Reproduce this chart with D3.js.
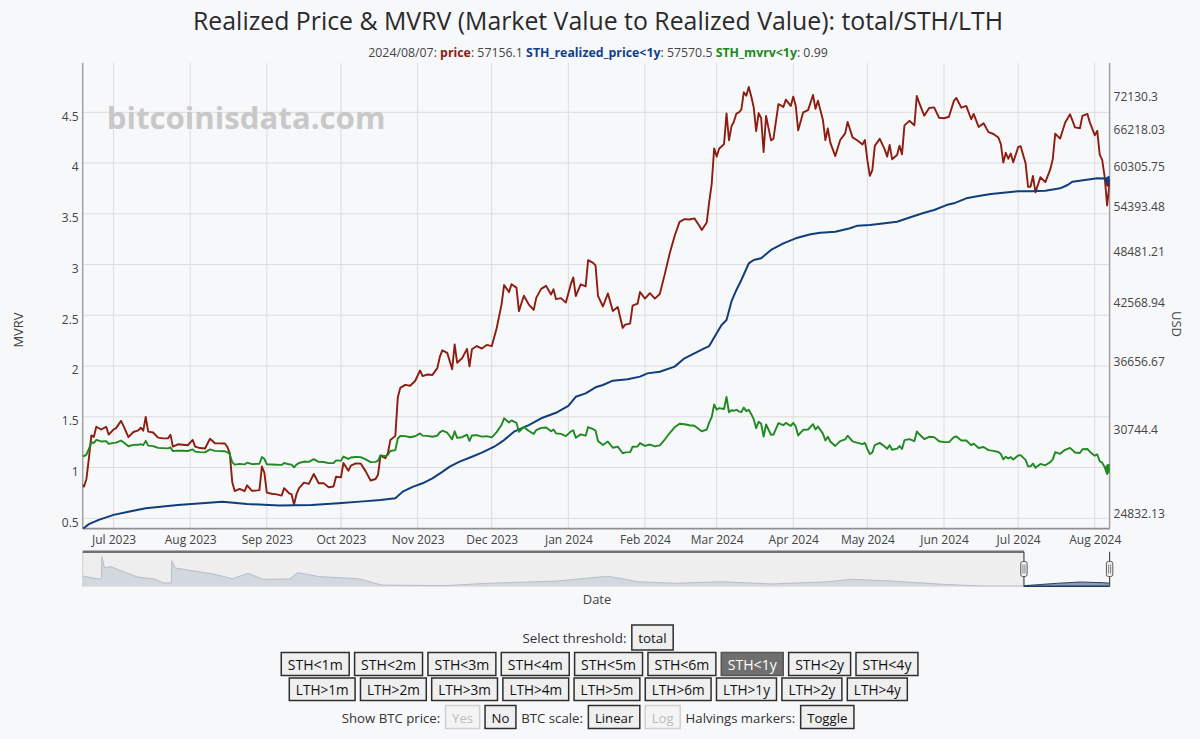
<!DOCTYPE html>
<html><head><meta charset="utf-8">
<script src="https://cdn.jsdelivr.net/npm/d3@7"></script>
<style>
html,body{margin:0;padding:0;background:#f7f8fa;}
svg{display:block;}
</style></head>
<body><svg id="chart" width="1200" height="739"></svg>
<script>
// ---------------- DATA ----------------
const priceData = [
["2023-06-18",26510],["2023-06-19",26340],["2023-06-20",26850],["2023-06-21",28310],["2023-06-22",30030],["2023-06-23",29910],["2023-06-24",30700],["2023-06-26",30480],["2023-06-28",30690],["2023-06-29",30090],
["2023-07-01",30480],["2023-07-02",30590],["2023-07-04",31160],["2023-07-05",30770],["2023-07-07",29900],["2023-07-09",30290],["2023-07-11",30410],["2023-07-12",30620],["2023-07-13",30390],["2023-07-14",31480],["2023-07-15",30320],["2023-07-17",30250],["2023-07-19",29860],["2023-07-21",29800],["2023-07-23",29800],["2023-07-24",30080],["2023-07-25",29180],["2023-07-27",29350],["2023-07-29",29320],["2023-07-31",29280],
["2023-08-02",29680],["2023-08-03",29180],["2023-08-05",29070],["2023-08-07",29040],["2023-08-09",29770],["2023-08-11",29430],["2023-08-13",29420],["2023-08-15",29410],["2023-08-16",29170],["2023-08-17",28700],["2023-08-18",26660],["2023-08-19",26050],["2023-08-21",26190],["2023-08-23",26040],["2023-08-24",26430],["2023-08-26",26060],["2023-08-28",26090],["2023-08-29",26110],["2023-08-30",27730],["2023-08-31",27300],
["2023-09-01",25940],["2023-09-03",25870],["2023-09-05",25830],["2023-09-07",25750],["2023-09-08",26240],["2023-09-10",25900],["2023-09-11",25840],["2023-09-12",25160],["2023-09-13",25840],["2023-09-14",26230],["2023-09-16",26610],["2023-09-18",26530],["2023-09-20",27210],["2023-09-22",26570],["2023-09-24",26580],["2023-09-26",26300],["2023-09-28",26350],["2023-09-29",27020],
["2023-10-01",26970],["2023-10-02",27980],["2023-10-04",27430],["2023-10-05",27800],["2023-10-07",27950],["2023-10-09",27940],["2023-10-11",27390],["2023-10-13",26760],["2023-10-15",26860],["2023-10-16",27160],["2023-10-17",28520],["2023-10-19",28330],["2023-10-20",28720],["2023-10-21",29680],["2023-10-23",29990],["2023-10-24",33090],["2023-10-25",33900],["2023-10-27",34160],["2023-10-29",34090],["2023-10-31",34500],
["2023-11-02",35440],["2023-11-03",34940],["2023-11-05",35080],["2023-11-07",35040],["2023-11-09",35650],["2023-11-10",36700],["2023-11-11",37310],["2023-11-13",37070],["2023-11-15",35550],["2023-11-16",37880],["2023-11-17",36150],["2023-11-19",36570],["2023-11-21",37450],["2023-11-22",35810],["2023-11-23",37420],["2023-11-25",37720],["2023-11-27",37480],["2023-11-29",37830],
["2023-12-01",37710],["2023-12-03",39480],["2023-12-05",41990],["2023-12-06",44080],["2023-12-08",43290],["2023-12-09",44170],["2023-12-11",43790],["2023-12-12",41240],["2023-12-14",42890],["2023-12-16",41940],["2023-12-18",41370],["2023-12-19",42660],["2023-12-21",43650],["2023-12-23",43990],["2023-12-25",43020],["2023-12-26",43610],["2023-12-27",42520],["2023-12-29",42630],["2023-12-31",42150],
["2024-01-02",44180],["2024-01-03",44950],["2024-01-04",42850],["2024-01-06",44160],["2024-01-08",43930],["2024-01-09",46970],["2024-01-11",46660],["2024-01-12",46340],["2024-01-13",42890],["2024-01-15",41730],["2024-01-17",43150],["2024-01-19",41260],["2024-01-21",41670],["2024-01-23",39510],["2024-01-24",39840],["2024-01-26",39950],["2024-01-27",41820],["2024-01-29",42030],["2024-01-30",43300],
["2024-02-01",42580],["2024-02-03",43180],["2024-02-05",42580],["2024-02-07",43080],["2024-02-09",45300],["2024-02-11",47770],["2024-02-13",49960],["2024-02-15",51800],["2024-02-17",52160],["2024-02-19",52120],["2024-02-21",52260],["2024-02-23",51300],["2024-02-24",50730],["2024-02-26",51730],["2024-02-27",54520],["2024-02-28",57050],["2024-02-29",62500],
["2024-03-01",61200],["2024-03-02",62440],["2024-03-04",63170],["2024-03-05",68330],["2024-03-06",63800],["2024-03-07",66100],["2024-03-08",66930],["2024-03-09",68300],["2024-03-10",68500],["2024-03-11",69020],["2024-03-12",72120],["2024-03-13",71480],["2024-03-14",73100],["2024-03-15",71400],["2024-03-16",69400],["2024-03-17",65320],["2024-03-18",68390],["2024-03-19",67550],["2024-03-20",61910],["2024-03-21",67910],["2024-03-23",63780],["2024-03-24",64060],["2024-03-26",69960],["2024-03-28",69470],["2024-03-29",70780],["2024-03-31",69650],
["2024-04-01",71330],["2024-04-02",69700],["2024-04-03",65450],["2024-04-05",68510],["2024-04-07",68900],["2024-04-09",71620],["2024-04-10",69140],["2024-04-11",70590],["2024-04-13",67200],["2024-04-14",63820],["2024-04-15",65740],["2024-04-16",63420],["2024-04-18",61280],["2024-04-20",63840],["2024-04-22",64930],["2024-04-23",66840],["2024-04-25",64280],["2024-04-27",63760],["2024-04-29",63110],["2024-04-30",63840],
["2024-05-01",60640],["2024-05-02",58250],["2024-05-03",59120],["2024-05-04",62890],["2024-05-06",64030],["2024-05-08",62330],["2024-05-09",61190],["2024-05-10",63050],["2024-05-11",60790],["2024-05-13",61450],["2024-05-14",62900],["2024-05-15",61550],["2024-05-16",66270],["2024-05-18",67050],["2024-05-20",66280],["2024-05-21",71450],["2024-05-22",70140],["2024-05-24",67930],["2024-05-26",69290],["2024-05-28",69390],["2024-05-30",67580],
["2024-06-01",67490],["2024-06-03",67750],["2024-06-05",70560],["2024-06-06",71080],["2024-06-08",69340],["2024-06-10",69650],["2024-06-12",67320],["2024-06-13",68240],["2024-06-15",66010],["2024-06-17",66640],["2024-06-19",65140],["2024-06-21",64830],["2024-06-23",64250],["2024-06-24",63180],["2024-06-25",60280],["2024-06-26",61800],["2024-06-27",60860],["2024-06-28",61670],["2024-06-29",60320],
["2024-07-01",62680],["2024-07-02",62850],["2024-07-04",60170],["2024-07-05",56660],["2024-07-06",56660],["2024-07-07",58230],["2024-07-08",55850],["2024-07-10",58050],["2024-07-12",57340],["2024-07-14",59230],["2024-07-15",60790],["2024-07-16",64870],["2024-07-18",64080],["2024-07-20",66710],["2024-07-22",68190],["2024-07-24",65930],["2024-07-26",65800],["2024-07-27",67910],["2024-07-29",68250],["2024-07-30",66780],
["2024-08-01",64620],["2024-08-02",65350],["2024-08-03",61500],["2024-08-04",60680],["2024-08-05",58120],["2024-08-06",54020],["2024-08-07",57156.1]
];

const realizedData = [
["2023-06-18",23590],["2023-06-21",23940],["2023-06-25",24200],["2023-07-01",24510],["2023-07-07",24710],["2023-07-14",24930],["2023-07-27",25130],["2023-08-14",25350],["2023-08-24",25200],["2023-09-06",25100],["2023-09-19",25130],["2023-09-30",25250],["2023-10-10",25370],["2023-10-17",25460],["2023-10-23",25570],["2023-10-26",26010],["2023-10-30",26330],["2023-11-03",26570],["2023-11-07",26910],["2023-11-11",27360],["2023-11-14",27720],["2023-11-18",28080],["2023-11-23",28430],["2023-11-27",28730],["2023-12-02",29170],["2023-12-06",29670],["2023-12-10",30310],["2023-12-16",30830],["2023-12-21",31370],["2023-12-27",31810],
["2024-01-01",32370],["2024-01-04",33140],["2024-01-08",33430],["2024-01-12",33950],["2024-01-15",34150],["2024-01-19",34530],["2024-01-25",34650],["2024-01-30",34890],["2024-02-02",35180],["2024-02-07",35330],["2024-02-13",35790],["2024-02-17",36560],["2024-02-21",37030],["2024-02-25",37500],["2024-02-27",37720],["2024-03-01",38970],["2024-03-03",39800],["2024-03-05",40320],["2024-03-07",42270],["2024-03-09",43530],["2024-03-11",44650],["2024-03-14",46590],["2024-03-16",46990],["2024-03-19",47200],["2024-03-23",48210],["2024-03-28",49040],
["2024-04-02",49670],["2024-04-08",50180],["2024-04-12",50390],["2024-04-18",50520],["2024-04-24",50960],["2024-04-27",51300],["2024-05-02",51390],["2024-05-08",51610],["2024-05-13",51810],["2024-05-19",52490],["2024-05-24",53020],["2024-05-28",53390],["2024-06-02",54070],["2024-06-05",54310],["2024-06-10",55010],["2024-06-15",55330],["2024-06-20",55620],["2024-06-25",55800],["2024-07-01",56000],["2024-07-06",56000],["2024-07-12",56090],["2024-07-18",56430],["2024-07-21",56910],["2024-07-23",57400],["2024-07-28",57640],["2024-08-02",57890],["2024-08-05",57880],["2024-08-06",57700],["2024-08-07",57570.5]
];

const mvrvData = [
["2023-06-18",1.124],["2023-06-19",1.111],["2023-06-20",1.127],["2023-06-21",1.183],["2023-06-22",1.251],["2023-06-23",1.242],["2023-06-24",1.272],["2023-06-26",1.257],["2023-06-28",1.260],["2023-06-29",1.233],
["2023-07-01",1.243],["2023-07-02",1.246],["2023-07-04",1.266],["2023-07-05",1.249],["2023-07-07",1.210],["2023-07-09",1.223],["2023-07-11",1.224],["2023-07-12",1.231],["2023-07-13",1.221],["2023-07-14",1.263],["2023-07-15",1.216],["2023-07-17",1.211],["2023-07-19",1.194],["2023-07-21",1.191],["2023-07-23",1.189],["2023-07-24",1.199],["2023-07-25",1.162],["2023-07-27",1.167],["2023-07-29",1.165],["2023-07-31",1.163],
["2023-08-02",1.179],["2023-08-03",1.157],["2023-08-05",1.152],["2023-08-07",1.150],["2023-08-09",1.179],["2023-08-11",1.164],["2023-08-13",1.162],["2023-08-15",1.160],["2023-08-16",1.151],["2023-08-17",1.133],["2023-08-18",1.053],["2023-08-19",1.029],["2023-08-21",1.036],["2023-08-23",1.031],["2023-08-24",1.048],["2023-08-26",1.034],["2023-08-28",1.036],["2023-08-29",1.037],["2023-08-30",1.103],["2023-08-31",1.086],
["2023-09-01",1.032],["2023-09-03",1.030],["2023-09-05",1.028],["2023-09-07",1.026],["2023-09-08",1.045],["2023-09-10",1.032],["2023-09-11",1.029],["2023-09-12",1.002],["2023-09-13",1.029],["2023-09-14",1.045],["2023-09-16",1.059],["2023-09-18",1.056],["2023-09-20",1.083],["2023-09-22",1.056],["2023-09-24",1.055],["2023-09-26",1.044],["2023-09-28",1.044],["2023-09-29",1.071],
["2023-10-01",1.068],["2023-10-02",1.108],["2023-10-04",1.085],["2023-10-05",1.099],["2023-10-07",1.104],["2023-10-09",1.103],["2023-10-11",1.080],["2023-10-13",1.053],["2023-10-15",1.056],["2023-10-16",1.068],["2023-10-17",1.120],["2023-10-19",1.111],["2023-10-20",1.126],["2023-10-21",1.163],["2023-10-23",1.172],["2023-10-24",1.286],["2023-10-25",1.311],["2023-10-27",1.310],["2023-10-29",1.299],["2023-10-31",1.308],
["2023-11-02",1.337],["2023-11-03",1.315],["2023-11-05",1.312],["2023-11-07",1.303],["2023-11-09",1.314],["2023-11-10",1.347],["2023-11-11",1.363],["2023-11-13",1.343],["2023-11-15",1.278],["2023-11-16",1.358],["2023-11-17",1.292],["2023-11-19",1.299],["2023-11-21",1.324],["2023-11-22",1.262],["2023-11-23",1.316],["2023-11-25",1.320],["2023-11-27",1.305],["2023-11-29",1.309],
["2023-12-01",1.297],["2023-12-03",1.349],["2023-12-05",1.422],["2023-12-06",1.485],["2023-12-08",1.444],["2023-12-09",1.465],["2023-12-11",1.441],["2023-12-12",1.353],["2023-12-14",1.399],["2023-12-16",1.360],["2023-12-18",1.332],["2023-12-19",1.369],["2023-12-21",1.391],["2023-12-23",1.395],["2023-12-25",1.358],["2023-12-26",1.374],["2023-12-27",1.337],["2023-12-29",1.332],["2023-12-31",1.310],
["2024-01-02",1.355],["2024-01-03",1.367],["2024-01-04",1.293],["2024-01-06",1.327],["2024-01-08",1.314],["2024-01-09",1.399],["2024-01-11",1.379],["2024-01-12",1.365],["2024-01-13",1.261],["2024-01-15",1.222],["2024-01-17",1.256],["2024-01-19",1.195],["2024-01-21",1.206],["2024-01-23",1.141],["2024-01-24",1.150],["2024-01-26",1.152],["2024-01-27",1.205],["2024-01-29",1.208],["2024-01-30",1.241],
["2024-02-01",1.214],["2024-02-03",1.227],["2024-02-05",1.208],["2024-02-07",1.219],["2024-02-09",1.276],["2024-02-11",1.340],["2024-02-13",1.396],["2024-02-15",1.432],["2024-02-17",1.427],["2024-02-19",1.417],["2024-02-21",1.412],["2024-02-23",1.376],["2024-02-24",1.357],["2024-02-26",1.375],["2024-02-27",1.445],["2024-02-28",1.496],["2024-02-29",1.621],
["2024-03-01",1.570],["2024-03-02",1.585],["2024-03-04",1.577],["2024-03-05",1.695],["2024-03-06",1.545],["2024-03-07",1.564],["2024-03-08",1.560],["2024-03-09",1.569],["2024-03-10",1.554],["2024-03-11",1.546],["2024-03-12",1.592],["2024-03-13",1.556],["2024-03-14",1.569],["2024-03-15",1.526],["2024-03-16",1.477],["2024-03-17",1.388],["2024-03-18",1.451],["2024-03-19",1.432],["2024-03-20",1.305],["2024-03-21",1.424],["2024-03-23",1.323],["2024-03-24",1.324],["2024-03-26",1.437],["2024-03-28",1.417],["2024-03-29",1.440],["2024-03-31",1.410],
["2024-04-01",1.440],["2024-04-02",1.404],["2024-04-03",1.316],["2024-04-05",1.372],["2024-04-07",1.375],["2024-04-09",1.427],["2024-04-10",1.376],["2024-04-11",1.404],["2024-04-13",1.334],["2024-04-14",1.266],["2024-04-15",1.304],["2024-04-16",1.257],["2024-04-18",1.213],["2024-04-20",1.260],["2024-04-22",1.277],["2024-04-23",1.314],["2024-04-25",1.258],["2024-04-27",1.243],["2024-04-29",1.230],["2024-04-30",1.243],
["2024-05-01",1.181],["2024-05-02",1.133],["2024-05-03",1.149],["2024-05-04",1.222],["2024-05-06",1.243],["2024-05-08",1.208],["2024-05-09",1.185],["2024-05-10",1.220],["2024-05-11",1.175],["2024-05-13",1.186],["2024-05-14",1.212],["2024-05-15",1.183],["2024-05-16",1.270],["2024-05-18",1.280],["2024-05-20",1.260],["2024-05-21",1.356],["2024-05-22",1.328],["2024-05-24",1.281],["2024-05-26",1.303],["2024-05-28",1.300],["2024-05-30",1.259],
["2024-06-01",1.251],["2024-06-03",1.251],["2024-06-05",1.300],["2024-06-06",1.306],["2024-06-08",1.267],["2024-06-10",1.266],["2024-06-12",1.221],["2024-06-13",1.236],["2024-06-15",1.193],["2024-06-17",1.202],["2024-06-19",1.172],["2024-06-21",1.164],["2024-06-23",1.153],["2024-06-24",1.133],["2024-06-25",1.081],["2024-06-26",1.107],["2024-06-27",1.090],["2024-06-28",1.103],["2024-06-29",1.079],
["2024-07-01",1.119],["2024-07-02",1.122],["2024-07-04",1.075],["2024-07-05",1.012],["2024-07-06",1.012],["2024-07-07",1.039],["2024-07-08",0.997],["2024-07-10",1.036],["2024-07-12",1.022],["2024-07-14",1.053],["2024-07-15",1.081],["2024-07-16",1.152],["2024-07-18",1.135],["2024-07-20",1.175],["2024-07-22",1.194],["2024-07-24",1.148],["2024-07-26",1.143],["2024-07-27",1.180],["2024-07-29",1.183],["2024-07-30",1.156],
["2024-08-01",1.117],["2024-08-02",1.129],["2024-08-03",1.062],["2024-08-04",1.048],["2024-08-05",1.004],["2024-08-06",0.936],["2024-08-07",0.993]
];

// full-history overview shown in the range slider (relative level)
const overviewData = [
["2010-12-18",1.53],["2011-03-05",1.10],["2011-03-19",1.15],["2011-03-21",4.29],["2011-04-03",2.67],["2011-05-03",2.86],["2011-09-08",1.39],["2011-12-01",1.10],["2012-01-14",0.53],["2012-02-12",0.53],["2012-02-21",0.60],["2012-02-23",3.71],["2012-03-11",2.67],["2012-09-12",1.81],["2012-12-13",1.14],["2013-02-26",1.91],["2013-05-11",1.06],["2013-09-18",1.10],["2013-10-24",2.00],["2014-02-12",1.43],["2014-08-17",1.14],["2014-12-07",0.24],["2015-09-29",0.14],["2016-05-08",0.49],["2017-04-06",0.81],["2017-11-15",1.43],["2017-12-24",1.43],["2018-05-01",0.71],["2018-11-03",0.49],["2019-06-14",0.71],["2020-02-09",0.39],["2020-11-13",0.71],["2021-03-05",1.06],["2021-08-18",0.86],["2022-05-23",0.34],["2022-11-24",0.10],["2023-05-29",0.10],["2023-11-29",0.49],["2024-03-19",0.67],["2024-07-09",0.57],["2024-08-07",0.50]
];

const leftTicks = [0.5, 1, 1.5, 2, 2.5, 3, 3.5, 4, 4.5];
const rightTicks = [24832.13, 30744.4, 36656.67, 42568.94, 48481.21, 54393.48, 60305.75, 66218.03, 72130.3];
const monthTicks = ["2023-07-01","2023-08-01","2023-09-01","2023-10-01","2023-11-01","2023-12-01","2024-01-01","2024-02-01","2024-03-01","2024-04-01","2024-05-01","2024-06-01","2024-07-01","2024-08-01"];

const titleText = "Realized Price & MVRV (Market Value to Realized Value): total/STH/LTH";
const seriesNames = ["price", "STH_realized_price<1y", "STH_mvrv<1y"];
const sthButtons = ["STH<1m","STH<2m","STH<3m","STH<4m","STH<5m","STH<6m","STH<1y","STH<2y","STH<4y"];
const lthButtons = ["LTH>1m","LTH>2m","LTH>3m","LTH>4m","LTH>5m","LTH>6m","LTH>1y","LTH>2y","LTH>4y"];
const selectedThreshold = "STH<1y";

// ---------------- SETUP ----------------
const FONT = "'Open Sans', 'Noto Sans', sans-serif";
const COL = {price:"#8c1d10", realized:"#113d7a", mvrv:"#1f8a22", text:"#444"};
const parse = d3.utcParse("%Y-%m-%d");
const svg = d3.select("#chart").style("font-family", FONT);
svg.append("rect").attr("width",1200).attr("height",739).attr("fill","#f7f8fa");

function fitWidth(sel, target){
  const w = sel.node().getComputedTextLength();
  const fs = parseFloat(sel.attr("font-size"));
  sel.attr("font-size", fs*target/w);
}

const P = {l:82.7, r:1109.6, t:63, b:528.7};
const x = d3.scaleUtc().domain([new Date(Date.UTC(2023,5,18,12)), parse("2024-08-07")]).range([P.l, P.r]);
const yL = d3.scaleLinear().domain([0.3975, 4.986]).range([P.b, P.t]);
const yR = d3.scaleLog().domain([23660, 77720]).range([P.b, P.t]);

const price = priceData.map(d=>({date:parse(d[0]), v:d[1]}));
const realized = realizedData.map(d=>({date:parse(d[0]), v:d[1]}));
const mvrv = mvrvData.map(d=>({date:parse(d[0]), v:d[1]}));
const overview = overviewData.map(d=>({date:parse(d[0]), v:d[1]}));

svg.append("clipPath").attr("id","plotclip").append("rect")
  .attr("x",P.l).attr("y",P.t).attr("width",P.r-P.l).attr("height",P.b-P.t);

// grid
const grid = svg.append("g");
grid.selectAll(".hg").data(leftTicks).join("line")
  .attr("x1",P.l).attr("x2",P.r).attr("y1",d=>yL(d)).attr("y2",d=>yL(d))
  .attr("stroke","#dcdcdc").attr("stroke-width",1);
grid.selectAll(".vg").data(monthTicks.map(parse)).join("line")
  .attr("x1",d=>x(d)).attr("x2",d=>x(d)).attr("y1",P.t).attr("y2",P.b)
  .attr("stroke","#dcdcdc").attr("stroke-width",1);

// watermark
const wm = svg.append("text").text("bitcoinisdata.com")
  .attr("x",106.7).attr("y",117).attr("dominant-baseline","central")
  .attr("font-size",34).attr("font-weight",700).attr("fill","#c8c8c8");
fitWidth(wm, 279);

// axes
const axL = svg.append("g").attr("transform",`translate(${P.l},0)`)
  .call(d3.axisLeft(yL).tickValues(leftTicks).tickSize(0).tickPadding(4).tickFormat(d=>String(d)));
const axR = svg.append("g").attr("transform",`translate(${P.r},0)`)
  .call(d3.axisRight(yR).tickValues(rightTicks).tickSize(0).tickPadding(4).tickFormat(d=>String(d)));
const axB = svg.append("g").attr("transform",`translate(0,${P.b})`)
  .call(d3.axisBottom(x).tickValues(monthTicks.map(parse)).tickSize(0).tickPadding(7).tickFormat(d3.utcFormat("%b %Y")));
[axL,axR,axB].forEach(a=>{
  a.select(".domain").remove();
  a.selectAll("text").attr("font-family",FONT).attr("font-size",12).attr("fill",COL.text);
});
axL.selectAll("text").attr("y",4);
axR.selectAll("text").attr("y",4);

// axis lines
svg.append("line").attr("x1",P.l).attr("x2",P.l).attr("y1",P.t).attr("y2",P.b).attr("stroke","#a0a0a0").attr("stroke-width",1.5);
svg.append("line").attr("x1",P.r).attr("x2",P.r).attr("y1",P.t).attr("y2",P.b).attr("stroke","#a0a0a0").attr("stroke-width",1.5);
svg.append("line").attr("x1",P.l).attr("x2",P.r).attr("y1",P.b).attr("y2",P.b).attr("stroke","#8f8f8f").attr("stroke-width",1.8);

// series
const gL = svg.append("g").attr("clip-path","url(#plotclip)");
const lineR = d3.line().x(d=>x(d.date)).y(d=>yR(d.v));
const lineL = d3.line().x(d=>x(d.date)).y(d=>yL(d.v));
gL.append("path").datum(price).attr("d",lineR).attr("fill","none").attr("stroke",COL.price).attr("stroke-width",1.9).attr("stroke-linejoin","round");
gL.append("path").datum(realized).attr("d",lineR).attr("fill","none").attr("stroke",COL.realized).attr("stroke-width",2).attr("stroke-linejoin","round");
gL.append("path").datum(mvrv).attr("d",lineL).attr("fill","none").attr("stroke",COL.mvrv).attr("stroke-width",1.9).attr("stroke-linejoin","round");
// end markers
gL.append("circle").attr("cx",x(price.at(-1).date)).attr("cy",yR(price.at(-1).v)).attr("r",4).attr("fill",COL.price);
gL.append("circle").attr("cx",x(realized.at(-1).date)).attr("cy",yR(realized.at(-1).v)).attr("r",4.5).attr("fill",COL.realized);
gL.append("circle").attr("cx",x(mvrv.at(-1).date)).attr("cy",yL(mvrv.at(-1).v)).attr("r",4.5).attr("fill",COL.mvrv);

// axis titles
svg.append("text").text("MVRV").attr("transform","translate(18,330) rotate(-90)")
  .attr("text-anchor","middle").attr("dominant-baseline","central").attr("font-size",13).attr("fill",COL.text);
svg.append("text").text("USD").attr("transform","translate(1177,324) rotate(90)")
  .attr("text-anchor","middle").attr("dominant-baseline","central").attr("font-size",13).attr("fill",COL.text);

// title & subtitle
const title = svg.append("text").text(titleText).attr("x",598).attr("y",20)
  .attr("text-anchor","middle").attr("dominant-baseline","central").attr("font-size",24).attr("fill","#2a2a2a");
fitWidth(title, 810);

const last = {p:priceData.at(-1)[1], r:realizedData.at(-1)[1], m:mvrvData.at(-1)[1]};
const sub = svg.append("text").attr("x",598).attr("y",52).attr("text-anchor","middle")
  .attr("dominant-baseline","central").attr("font-size",13).attr("fill",COL.text);
const parts = [
  {t:"2024/08/07: "},
  {t:seriesNames[0], c:COL.price, b:1}, {t:": "+last.p+" "},
  {t:seriesNames[1], c:"#10408a", b:1}, {t:": "+last.r+" "},
  {t:seriesNames[2], c:"#1a8a1a", b:1}, {t:": "+last.m.toFixed(2)}
];
parts.forEach(p=>{
  const ts = sub.append("tspan").text(p.t);
  if(p.c) ts.attr("fill",p.c);
  if(p.b) ts.attr("font-weight",700);
});
sub.style("white-space","pre");
fitWidth(sub, 460);

// ---------------- RANGE SLIDER ----------------
const S = {t:551.7, b:586.7};
const xs = d3.scaleUtc().domain([parse("2010-12-18"), parse("2024-08-07")]).range([P.l, P.r]);
const ys = d3.scaleLinear().domain([0,5]).range([S.b, S.t]);
const winX0 = xs(x.domain()[0]), winX1 = xs(x.domain()[1]);
const areaS = d3.area().x(d=>xs(d.date)).y0(S.b).y1(d=>ys(d.v));
const lineS = d3.line().x(d=>xs(d.date)).y(d=>ys(d.v));

svg.append("rect").attr("x",P.l).attr("y",S.t).attr("width",winX0-P.l).attr("height",S.b-S.t).attr("fill","#eeeeef");
svg.append("clipPath").attr("id","sl-out").append("rect").attr("x",P.l).attr("y",S.t).attr("width",winX0-P.l).attr("height",S.b-S.t);
svg.append("clipPath").attr("id","sl-in").append("rect").attr("x",winX0).attr("y",S.t).attr("width",winX1-winX0).attr("height",S.b-S.t);
const gso = svg.append("g").attr("clip-path","url(#sl-out)");
gso.append("path").datum(overview).attr("d",areaS).attr("fill","#d3d7de");
gso.append("path").datum(overview).attr("d",lineS).attr("fill","none").attr("stroke","#b6bdc9").attr("stroke-width",1);
const gsi = svg.append("g").attr("clip-path","url(#sl-in)");
gsi.append("path").datum(overview).attr("d",areaS).attr("fill","#8f9bb0");
gsi.append("path").datum(overview).attr("d",lineS).attr("fill","none").attr("stroke","#2a426c").attr("stroke-width",1);
// borders
svg.append("line").attr("x1",P.l).attr("x2",P.l).attr("y1",S.t).attr("y2",S.b).attr("stroke","#cfcfcf").attr("stroke-width",1);
svg.append("line").attr("x1",P.l).attr("x2",winX0).attr("y1",S.t).attr("y2",S.t).attr("stroke","#707070").attr("stroke-width",2.6);
svg.append("line").attr("x1",winX0).attr("x2",winX1).attr("y1",S.b-0.5).attr("y2",S.b-0.5).attr("stroke","#1f3a68").attr("stroke-width",1.6);
[winX0, winX1].forEach(hx=>{
  svg.append("line").attr("x1",hx).attr("x2",hx).attr("y1",S.t).attr("y2",S.b).attr("stroke","#4a4a4a").attr("stroke-width",1.2);
  svg.append("rect").attr("x",hx-3.2).attr("y",561.5).attr("width",6.4).attr("height",15).attr("rx",2)
    .attr("fill","#eeeeee").attr("stroke","#5a5a5a").attr("stroke-width",1);
  [-1,1].forEach(o=>svg.append("line").attr("x1",hx+o).attr("x2",hx+o).attr("y1",564.5).attr("y2",573.5).attr("stroke","#6a6a6a").attr("stroke-width",0.8));
});
svg.append("text").text("Date").attr("x",597).attr("y",599).attr("text-anchor","middle")
  .attr("dominant-baseline","central").attr("font-size",13).attr("fill",COL.text);

// ---------------- CONTROLS ----------------
function measure(txt, fs){
  const t = svg.append("text").attr("font-family",FONT).attr("font-size",fs).text(txt);
  const w = t.node().getComputedTextLength(); t.remove(); return w;
}
const PAD = 13, GAP = 5.4;

// each row is laid out centred between its left and right extent
function drawRow(items, top, h, x0, x1){
  const nBtn = items.filter(it=>it.type==="button").length;
  const raw = d3.sum(items, it=>measure(it.text, 14));
  const fs = 14 * ((x1-x0) - GAP*(items.length-1) - PAD*nBtn) / raw;
  const widths = items.map(it => measure(it.text, fs) + (it.type==="button" ? PAD : 0));
  const total = d3.sum(widths) + GAP*(items.length-1);
  let xx = (x0+x1)/2 - total/2;
  const g = svg.append("g");
  items.forEach((it,i)=>{
    const w = widths[i];
    if(it.type==="button"){
      const st = it.state || "normal";
      const fill = st==="selected" ? "#6f6f6f" : st==="disabled" ? "#f4f4f4" : "#efefef";
      const stroke = st==="selected" ? "#555" : st==="disabled" ? "#d0d0d0" : "#2e2e2e";
      const tc = st==="selected" ? "#ffffff" : st==="disabled" ? "#bcbcbc" : "#111";
      g.append("rect").attr("x",xx).attr("y",top).attr("width",w).attr("height",h)
        .attr("fill",fill).attr("stroke",stroke).attr("stroke-width",1.5);
      g.append("text").text(it.text).attr("x",xx+w/2).attr("y",top+h/2+0.5).attr("text-anchor","middle")
        .attr("dominant-baseline","central").attr("font-size",fs).attr("fill",tc);
    } else {
      g.append("text").text(it.text).attr("x",xx).attr("y",top+h/2+0.5)
        .attr("dominant-baseline","central").attr("font-size",fs).attr("fill","#333");
    }
    xx += w + GAP;
  });
}
drawRow([{type:"label",text:"Select threshold:"},{type:"button",text:"total"}], 625, 25, 522.5, 673.2);
drawRow(sthButtons.map(b=>({type:"button",text:b,state:b===selectedThreshold?"selected":"normal"})), 652.5, 23, 281, 918.2);
drawRow(lthButtons.map(b=>({type:"button",text:b})), 678, 22.5, 289, 907.6);
drawRow([
  {type:"label",text:"Show BTC price:"},{type:"button",text:"Yes",state:"disabled"},{type:"button",text:"No"},
  {type:"label",text:"BTC scale:"},{type:"button",text:"Linear"},{type:"button",text:"Log",state:"disabled"},
  {type:"label",text:"Halvings markers:"},{type:"button",text:"Toggle"}
], 705.5, 23, 341.5, 854.2);
</script>
</body></html>
